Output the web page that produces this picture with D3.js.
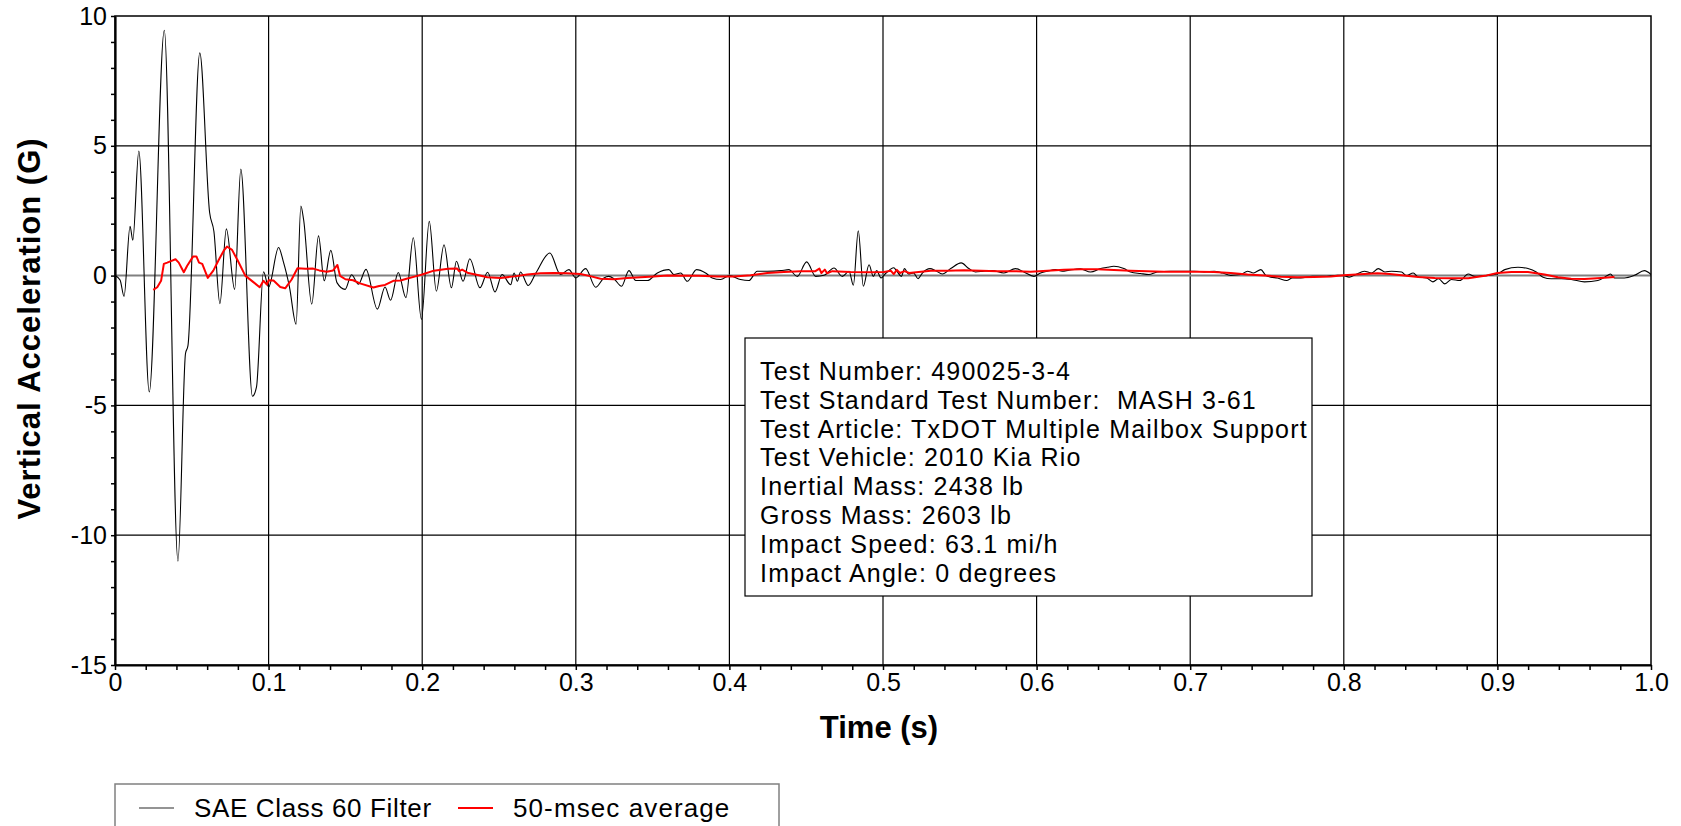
<!DOCTYPE html>
<html>
<head>
<meta charset="utf-8">
<script src="https://cdn.jsdelivr.net/npm/d3@7"></script>
<style>
  body { margin: 0; background: #fff; }
  svg { display: block; font-family: "Liberation Sans", Arial, sans-serif; }
</style>
</head>
<body>
<div id="chart-container"></div>
<script>
// SAE Class 60 filtered trace (time in s, acceleration in G)
const filterTime = [
  0, 0.0033, 0.0059, 0.0098, 0.0116, 0.0155, 0.0223, 0.0321, 0.0410, 0.0459,
  0.0475, 0.0552, 0.0616, 0.0644, 0.0683, 0.0725, 0.0779, 0.0819, 0.0895, 0.0921,
  0.0967, 0.1000, 0.1065, 0.1095, 0.1136, 0.1179, 0.1210, 0.1228, 0.1281, 0.1325,
  0.1362, 0.1405, 0.1445, 0.1498, 0.1540, 0.1585, 0.1634, 0.1708, 0.1758, 0.1794,
  0.1844, 0.1894, 0.1942, 0.1995, 0.2046, 0.2092, 0.2142, 0.2190, 0.2223, 0.2266,
  0.2310, 0.2376, 0.2426, 0.2474, 0.2520, 0.2576, 0.2598, 0.2620, 0.2640, 0.2690,
  0.2740, 0.2831, 0.2900, 0.2955, 0.3000, 0.3064, 0.3129, 0.3183, 0.3215, 0.3248,
  0.3298, 0.3346, 0.3390, 0.3466, 0.3531, 0.3606, 0.3639, 0.3683, 0.3726, 0.3786,
  0.3845, 0.3888, 0.3943, 0.4000, 0.4072, 0.4127, 0.4181, 0.4246, 0.4333, 0.4387,
  0.4442, 0.4503, 0.4562, 0.4616, 0.4681, 0.4735, 0.4779, 0.4807, 0.4839, 0.4872,
  0.4909, 0.4937, 0.4959, 0.4987, 0.5020, 0.5070, 0.5090, 0.5120, 0.5140, 0.5166,
  0.5199, 0.5228, 0.5256, 0.5306, 0.5343, 0.5386, 0.5441, 0.5509, 0.5559, 0.5602,
  0.5657, 0.5711, 0.5787, 0.5863, 0.5917, 0.5983, 0.6026, 0.6070, 0.6124, 0.6167,
  0.6211, 0.6286, 0.6351, 0.6417, 0.6460, 0.6503, 0.6568, 0.6612, 0.6677, 0.6731,
  0.6785, 0.6872, 0.6939, 0.7026, 0.7091, 0.7156, 0.7210, 0.7264, 0.7329, 0.7373,
  0.7412, 0.7460, 0.7492, 0.7525, 0.7568, 0.7628, 0.7665, 0.7720, 0.7796, 0.7872,
  0.7959, 0.8000, 0.8035, 0.8078, 0.8134, 0.8180, 0.8225, 0.8268, 0.8311, 0.8376,
  0.8408, 0.8452, 0.8485, 0.8539, 0.8580, 0.8617, 0.8658, 0.8701, 0.8755, 0.8810,
  0.8853, 0.8918, 0.9000, 0.9048, 0.9134, 0.9199, 0.9253, 0.9297, 0.9351, 0.9416,
  0.9481, 0.9567, 0.9654, 0.9719, 0.9736, 0.9762, 0.9827, 0.9892, 0.9957, 1.0
];
const filterAccel = [
  0, -0.17, -0.8, 1.9, 1.36, 4.8, -4.48, 9.45, -11.0, -3.0,
  -2.7, 8.58, 2.43, 1.7, -1.08, 1.8, -0.53, 4.1, -4.65, -4.3,
  0.15, -0.44, 1.08, 0.56, -0.44, -1.87, 2.68, 2.15, -1.1, 1.53,
  -0.2, 0.97, -0.27, -0.53, 0.03, -0.33, 0.24, -1.29, -0.44, -0.95,
  0.12, -0.85, 1.46, -1.69, 2.09, -0.6, 1.19, -0.47, 0.55, -0.22,
  0.65, -0.47, 0.13, -0.63, 0.04, -0.35, 0.1, -0.22, 0.14, -0.38,
  0.1, 0.87, 0.04, 0.23, -0.09, 0.27, -0.45, -0.09, -0.03, -0.12,
  -0.41, 0.19, -0.19, -0.19, 0.1, 0.23, 0.04, 0.1, -0.22, 0.23,
  0.1, -0.09, -0.15, 0.0, -0.15, -0.19, 0.17, 0.17, 0.19, 0.23,
  -0.03, 0.53, -0.03, 0.01, 0.29, -0.03, 0.17, -0.37, 1.73, -0.41,
  0.42, -0.03, 0.19, -0.09, 0.1, 0.3, 0.17, -0.03, 0.27, 0.06,
  0.1, -0.12, 0.1, 0.27, 0.19, 0.06, 0.27, 0.49, 0.27, 0.14,
  0.17, 0.19, 0.1, 0.27, 0.14, -0.03, 0.1, 0.17, 0.23, 0.17,
  0.21, 0.26, 0.14, 0.27, 0.32, 0.36, 0.27, 0.14, 0.08, 0.04,
  0.14, 0.17, 0.17, 0.17, 0.14, 0.17, 0.1, 0.01, 0.04, 0.17,
  0.1, 0.23, 0.01, -0.06, -0.09, -0.19, -0.09, -0.09, -0.03, -0.03,
  0.01, 0.0, -0.06, 0.04, 0.17, 0.1, 0.27, 0.14, 0.17, 0.14,
  0.0, 0.1, -0.06, -0.09, -0.24, -0.12, -0.32, -0.15, -0.19, 0.06,
  -0.03, 0.0, 0.06, 0.23, 0.32, 0.27, 0.14, -0.06, -0.12, -0.12,
  -0.15, -0.24, -0.19, 0.01, 0.06, -0.09, -0.09, 0.01, 0.19, 0.04
];

// 50-msec moving average
const avgTime = [
  0.0249, 0.0275, 0.0300, 0.0318, 0.0340, 0.0360, 0.0394, 0.0415, 0.0448, 0.0470,
  0.0509, 0.0530, 0.0547, 0.0568, 0.0604, 0.0640, 0.0675, 0.0708, 0.0729, 0.0762,
  0.0799, 0.0848, 0.0903, 0.0942, 0.0967, 0.0989, 0.1000, 0.1032, 0.1076, 0.1108,
  0.1150, 0.1188, 0.1240, 0.1290, 0.1330, 0.1379, 0.1420, 0.1448, 0.1465, 0.1500,
  0.1550, 0.1595, 0.1682, 0.1720, 0.1758, 0.1812, 0.1859, 0.1898, 0.1974, 0.2000,
  0.2076, 0.2168, 0.2228, 0.2240, 0.2260, 0.2300, 0.2376, 0.2423, 0.2510, 0.2600,
  0.2684, 0.2771, 0.2857, 0.2940, 0.3031, 0.3100, 0.3161, 0.3248, 0.3335, 0.3422,
  0.3508, 0.3595, 0.3800, 0.3921, 0.4030, 0.4138, 0.4247, 0.4355, 0.4464, 0.4560,
  0.4586, 0.4599, 0.4621, 0.4636, 0.4670, 0.4789, 0.4897, 0.5006, 0.5050, 0.5070,
  0.5090, 0.5110, 0.5140, 0.5170, 0.5200, 0.5311, 0.5420, 0.5527, 0.5640, 0.5744,
  0.5853, 0.5961, 0.6070, 0.6178, 0.6286, 0.6395, 0.6503, 0.6611, 0.6720, 0.6829,
  0.6937, 0.7046, 0.7155, 0.7264, 0.7373, 0.7481, 0.7590, 0.7698, 0.7807, 0.7915,
  0.8000, 0.8133, 0.8219, 0.8300, 0.8376, 0.8485, 0.8592, 0.8701, 0.8810, 0.8918,
  0.9000, 0.9091, 0.9199, 0.9307, 0.9394, 0.9480, 0.9567, 0.9675, 0.9762
];
const avgAccel = [
  -0.55, -0.45, -0.2, 0.45, 0.5, 0.55, 0.63, 0.5, 0.13, 0.38,
  0.74, 0.74, 0.5, 0.45, -0.09, 0.19, 0.6, 0.96, 1.12, 0.99,
  0.58, 0.0, -0.26, -0.45, -0.2, -0.35, -0.18, -0.19, -0.44, -0.49,
  -0.15, 0.28, 0.26, 0.27, 0.2, 0.15, 0.2, 0.41, -0.01, -0.14,
  -0.18, -0.3, -0.46, -0.4, -0.36, -0.2, -0.19, -0.12, 0.0, 0.04,
  0.19, 0.26, 0.27, 0.17, 0.23, 0.1, 0.0, -0.06, -0.09, -0.03,
  0.04, 0.09, 0.1, 0.09, 0.06, -0.03, -0.12, -0.14, -0.09, -0.06,
  -0.03, 0.0, -0.01, -0.03, -0.03, 0.01, 0.1, 0.14, 0.17, 0.17,
  0.27, 0.1, 0.23, 0.09, 0.17, 0.14, 0.13, 0.14, 0.19, 0.06,
  0.22, 0.1, 0.17, 0.1, 0.12, 0.19, 0.19, 0.21, 0.19, 0.17,
  0.17, 0.15, 0.19, 0.23, 0.24, 0.24, 0.22, 0.19, 0.17, 0.15,
  0.15, 0.15, 0.14, 0.1, 0.04, 0.0, -0.04, -0.06, -0.05, -0.03,
  0.01, 0.06, 0.09, 0.06, 0.01, -0.05, -0.09, -0.1, -0.1, -0.01,
  0.1, 0.14, 0.14, 0.04, -0.06, -0.12, -0.13, -0.09, -0.05
];

const xTicks = [0, 0.1, 0.2, 0.3, 0.4, 0.5, 0.6, 0.7, 0.8, 0.9, 1.0];
const xTickLabels = ["0", "0.1", "0.2", "0.3", "0.4", "0.5", "0.6", "0.7", "0.8", "0.9", "1.0"];
const yTicks = [-15, -10, -5, 0, 5, 10];
const yTickLabels = ["-15", "-10", "-5", "0", "5", "10"];

const infoLines = [
  "Test Number: 490025-3-4",
  "Test Standard Test Number:  MASH 3-61",
  "Test Article: TxDOT Multiple Mailbox Support",
  "Test Vehicle: 2010 Kia Rio",
  "Inertial Mass: 2438 lb",
  "Gross Mass: 2603 lb",
  "Impact Speed: 63.1 mi/h",
  "Impact Angle: 0 degrees"
];
const seriesNames = ["SAE Class 60 Filter", "50-msec average"];
const seriesColors = ["#000000", "#ff0000"];

const filterData = filterTime.map((t, i) => ({ t, v: filterAccel[i] }));
const avgData = avgTime.map((t, i) => ({ t, v: avgAccel[i] }));

const containerWidth = 1681;
const containerHeight = 826;
const margin = { top: 16, right: 30, bottom: 161, left: 115 };
const width = containerWidth - margin.left - margin.right;
const height = containerHeight - margin.top - margin.bottom;

const svg = d3.select("#chart-container")
  .append("svg")
  .attr("width", containerWidth)
  .attr("height", containerHeight);

const g = svg.append("g")
  .attr("transform", "translate(" + margin.left + "," + margin.top + ")");

const x = d3.scaleLinear().domain([0, 1]).range([0, width]);
const y = d3.scaleLinear().domain([-15, 10]).range([height, 0]);

// Grid lines
g.selectAll(".vgrid")
  .data(xTicks.slice(1, -1))
  .enter().append("line")
  .attr("x1", d => x(d)).attr("x2", d => x(d))
  .attr("y1", 0).attr("y2", height)
  .attr("stroke", "#000").attr("stroke-width", 1.2);

g.selectAll(".hgrid")
  .data(yTicks.filter(d => d !== 0 && d !== -15 && d !== 10))
  .enter().append("line")
  .attr("x1", 0).attr("x2", width)
  .attr("y1", d => y(d)).attr("y2", d => y(d))
  .attr("stroke", "#000").attr("stroke-width", 1.2);

// Zero reference line
g.append("line")
  .attr("x1", 0).attr("x2", width)
  .attr("y1", y(0)).attr("y2", y(0))
  .attr("stroke", "#808080").attr("stroke-width", 2);

// Clip the traces to the plot area
svg.append("defs").append("clipPath").attr("id", "plot-clip")
  .append("rect").attr("width", width).attr("height", height);

const plot = g.append("g").attr("clip-path", "url(#plot-clip)");

plot.append("path")
  .datum(filterData)
  .attr("fill", "none")
  .attr("stroke", seriesColors[0])
  .attr("stroke-width", 1.1)
  .attr("d", d3.line().curve(d3.curveMonotoneX).x(d => x(d.t)).y(d => y(d.v)));

plot.append("path")
  .datum(avgData)
  .attr("fill", "none")
  .attr("stroke", seriesColors[1])
  .attr("stroke-width", 2)
  .attr("stroke-linejoin", "round")
  .attr("d", d3.line().x(d => x(d.t)).y(d => y(d.v)));

// Frame
g.append("rect")
  .attr("width", width).attr("height", height)
  .attr("fill", "none").attr("stroke", "#000").attr("stroke-width", 1.5);

// Minor ticks
g.append("g")
  .attr("transform", "translate(0," + height + ")")
  .call(d3.axisBottom(x).tickValues(d3.range(0, 51).map(i => i / 50)).tickSize(5).tickFormat(""))
  .call(a => a.select(".domain").remove())
  .call(a => a.selectAll("line").attr("stroke-width", 1.5));

g.append("g")
  .call(d3.axisLeft(y).tickValues(d3.range(-15, 11)).tickSize(4).tickFormat(""))
  .call(a => a.select(".domain").remove())
  .call(a => a.selectAll("line").attr("stroke-width", 1.5));

// Main axes with labels
const xAxis = g.append("g")
  .attr("transform", "translate(0," + height + ")")
  .call(d3.axisBottom(x).tickValues(xTicks).tickSize(0).tickPadding(8)
    .tickFormat((d, i) => xTickLabels[i]));
xAxis.select(".domain").attr("stroke-width", 2.2);
xAxis.selectAll("text").attr("font-size", 25).attr("fill", "#000")
  .attr("font-family", "Liberation Sans, Arial, sans-serif");

const yAxis = g.append("g")
  .call(d3.axisLeft(y).tickValues(yTicks).tickSize(0).tickPadding(8)
    .tickFormat((d, i) => yTickLabels[i]));
yAxis.select(".domain").attr("stroke-width", 2.2);
yAxis.selectAll("text").attr("font-size", 25).attr("fill", "#000")
  .attr("font-family", "Liberation Sans, Arial, sans-serif");

// Axis titles
svg.append("text")
  .attr("transform", "translate(40," + (margin.top + height / 2 - 12) + ") rotate(-90)")
  .attr("text-anchor", "middle")
  .attr("font-size", 31).attr("font-weight", "bold")
  .attr("letter-spacing", "1px")
  .text("Vertical Acceleration (G)");

svg.append("text")
  .attr("x", margin.left + width / 2 - 4)
  .attr("y", 738)
  .attr("text-anchor", "middle")
  .attr("font-size", 31).attr("font-weight", "bold")
  .text("Time (s)");

// Test information box
const info = svg.append("g").attr("transform", "translate(745,338)");
info.append("rect")
  .attr("width", 567).attr("height", 258)
  .attr("fill", "#fff").attr("stroke", "#000").attr("stroke-width", 1.2);
info.selectAll("text")
  .data(infoLines)
  .enter().append("text")
  .attr("x", 15)
  .attr("y", (d, i) => 42 + i * 28.8)
  .attr("font-size", 25)
  .attr("letter-spacing", "1.2px")
  .style("white-space", "pre")
  .text(d => d);

// Legend
const legend = svg.append("g").attr("transform", "translate(115,784)");
legend.append("rect")
  .attr("width", 664).attr("height", 60)
  .attr("fill", "#fff").attr("stroke", "#808080").attr("stroke-width", 1.5);

const legendX = [24, 343];
const legendSpacing = [0.65, 1.1];
legend.selectAll(".lg-line")
  .data(seriesNames)
  .enter().append("line")
  .attr("x1", (d, i) => legendX[i]).attr("x2", (d, i) => legendX[i] + 35)
  .attr("y1", 24).attr("y2", 24)
  .attr("stroke", (d, i) => i === 0 ? "#707070" : seriesColors[i])
  .attr("stroke-width", (d, i) => i === 0 ? 1.5 : 2);

legend.selectAll(".lg-text")
  .data(seriesNames)
  .enter().append("text")
  .attr("x", (d, i) => legendX[i] + 55)
  .attr("y", 33)
  .attr("font-size", 26)
  .attr("letter-spacing", (d, i) => legendSpacing[i] + "px")
  .text(d => d);
</script>
</body>
</html>
